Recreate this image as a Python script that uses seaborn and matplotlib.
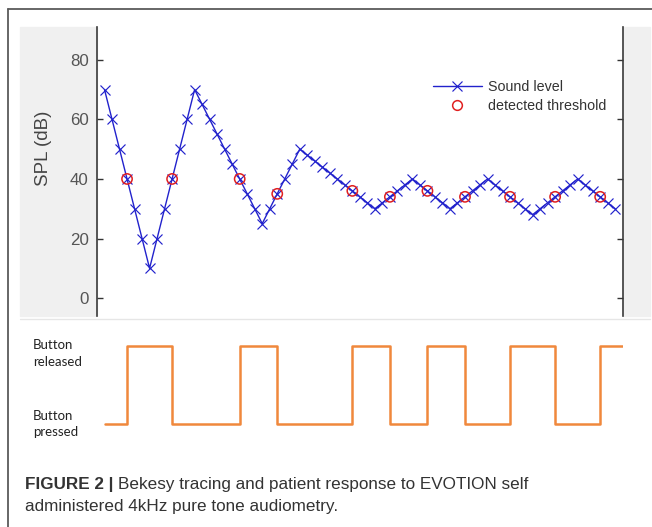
import matplotlib
matplotlib.use("Agg")
import matplotlib.pyplot as plt
from matplotlib.patches import Rectangle
from matplotlib.lines import Line2D
import seaborn as sns

# Bekesy tracing, one value per presentation step
sample_idx = list(range(1, 70))
sound_level = [70, 60, 50, 40, 30, 20, 10, 20, 30, 40, 50, 60, 70,
               65, 60, 55, 50, 45, 40, 35, 30, 25,
               30, 35, 40, 45, 50,
               48, 46, 44, 42, 40, 38, 36, 34, 32, 30,
               32, 34, 36, 38, 40,
               38, 36, 34, 32, 30,
               32, 34, 36, 38, 40,
               38, 36, 34, 32, 30, 28,
               30, 32, 34, 36, 38, 40,
               38, 36, 34, 32, 30]

# detected thresholds (step index, dB)
threshold_idx = [4, 10, 19, 24, 34, 39, 44, 49, 55, 61, 67]
threshold_db = [40, 40, 40, 35, 36, 34, 36, 34, 34, 34, 34]

# button trace: 1 = released, 0 = pressed
button_x = [1, 4, 10, 19, 24, 34, 39, 44, 49, 55, 61, 67, 70]
button_state = [0, 1, 0, 1, 0, 1, 0, 1, 0, 1, 0, 1, 1]

y_ticks = [0, 20, 40, 60, 80]

sns.set_theme(style="white")
plt.rcParams["font.family"] = ["Liberation Sans", "DejaVu Sans"]

W, H = 652, 527
fig = plt.figure(figsize=(W / 100, H / 100), dpi=100)

def fx(px):
    return px / W

def fy(py):
    return 1 - py / H

blue = "#2222cc"

# grey side strips of the matlab figure
fig.patches.append(Rectangle((fx(20), fy(316)), fx(97) - fx(20), fy(27) - fy(316),
                             transform=fig.transFigure, color="#f0f0f0", zorder=-5))
fig.patches.append(Rectangle((fx(623), fy(316)), fx(650) - fx(623), fy(27) - fy(316),
                             transform=fig.transFigure, color="#f0f0f0", zorder=-5))
# faint line under the top panel
fig.add_artist(Line2D([fx(20), fx(650)], [fy(318.5), fy(318.5)], transform=fig.transFigure,
                      color="#e6e6e6", lw=1, zorder=-4))
# outer frame (left and top)
fig.add_artist(Line2D([fx(7.5), fx(7.5)], [fy(8.5), 0], transform=fig.transFigure,
                      color="#5a5a5a", lw=1.3))
fig.add_artist(Line2D([fx(7.5), 1], [fy(8.5), fy(8.5)], transform=fig.transFigure,
                      color="#5a5a5a", lw=1.3))

# top panel
ax = fig.add_axes([fx(97), fy(316), fx(622.7) - fx(97), fy(27) - fy(316)])
ax.patch.set_alpha(0)
sns.lineplot(x=sample_idx, y=sound_level, ax=ax, color=blue, lw=1.0,
             marker="x", markersize=6.5, markeredgewidth=0.85, markeredgecolor=blue,
             legend=False)
sns.scatterplot(x=threshold_idx, y=threshold_db, ax=ax, marker="o", s=55,
                facecolor="none", edgecolor="#e02020", linewidth=1.1, zorder=3, legend=False)

ax.set_xlim(0, 70)
ax.set_ylim(-6, 91)
ax.set_xticks([])
ax.set_yticks(y_ticks)
ax.set_ylabel("SPL (dB)", fontsize=13.5, color="#444444")
ax.yaxis.set_label_coords(-0.085, 0.58)
ax.tick_params(axis="y", direction="in", length=4, width=1, left=True, right=True,
               labelleft=True, labelsize=12.2, labelcolor="#555555", color="#333333", pad=6)
for s in ["top", "bottom"]:
    ax.spines[s].set_visible(False)
for s in ["left", "right"]:
    ax.spines[s].set_color("#3a3a3a")
    ax.spines[s].set_linewidth(1.2)

handles = [Line2D([], [], color=blue, lw=1.0, marker="x", markersize=6.5,
                  markeredgewidth=0.85),
           Line2D([], [], ls="", marker="o", markersize=7, mfc="none", mec="#e02020",
                  mew=1.1)]
ax.legend(handles, ["Sound level", "detected threshold"], loc="upper left",
          bbox_to_anchor=(0.615, 0.86), frameon=False, fontsize=10.3, handlelength=3.4,
          handletextpad=0.4, labelspacing=0.35, labelcolor="#333333")

# bottom panel: button trace
ax2 = fig.add_axes([fx(97), fy(435), fx(622.7) - fx(97), fy(335) - fy(435)])
sns.lineplot(x=button_x, y=button_state, ax=ax2, color="#f0883c", lw=1.8,
             drawstyle="steps-post", legend=False)
ax2.set_xlim(0, 70)
ax2.set_ylim(-0.136, 1.136)
ax2.set_axis_off()

lab_kw = dict(fontsize=9.5, color="#222222", family=["Lato", "DejaVu Sans"], va="center")
fig.text(fx(33), fy(345), "Button", **lab_kw)
fig.text(fx(33), fy(362), "released", **lab_kw)
fig.text(fx(33), fy(415.5), "Button", **lab_kw)
fig.text(fx(33), fy(432), "pressed", **lab_kw)

# caption
cap_kw = dict(fontsize=12.3, color="#333333", va="center",
              family=["Liberation Sans", "DejaVu Sans"])
t1 = fig.text(fx(25), fy(484), "FIGURE 2 |", weight="bold", **cap_kw)
fig.canvas.draw()
bb = t1.get_window_extent()
fig.text(bb.x1 / W + fx(5), fy(484), "Bekesy tracing and patient response to EVOTION self",
         **cap_kw)
fig.text(fx(25), fy(507), "administered 4kHz pure tone audiometry.", **cap_kw)

fig.savefig("out.png", dpi=100)
